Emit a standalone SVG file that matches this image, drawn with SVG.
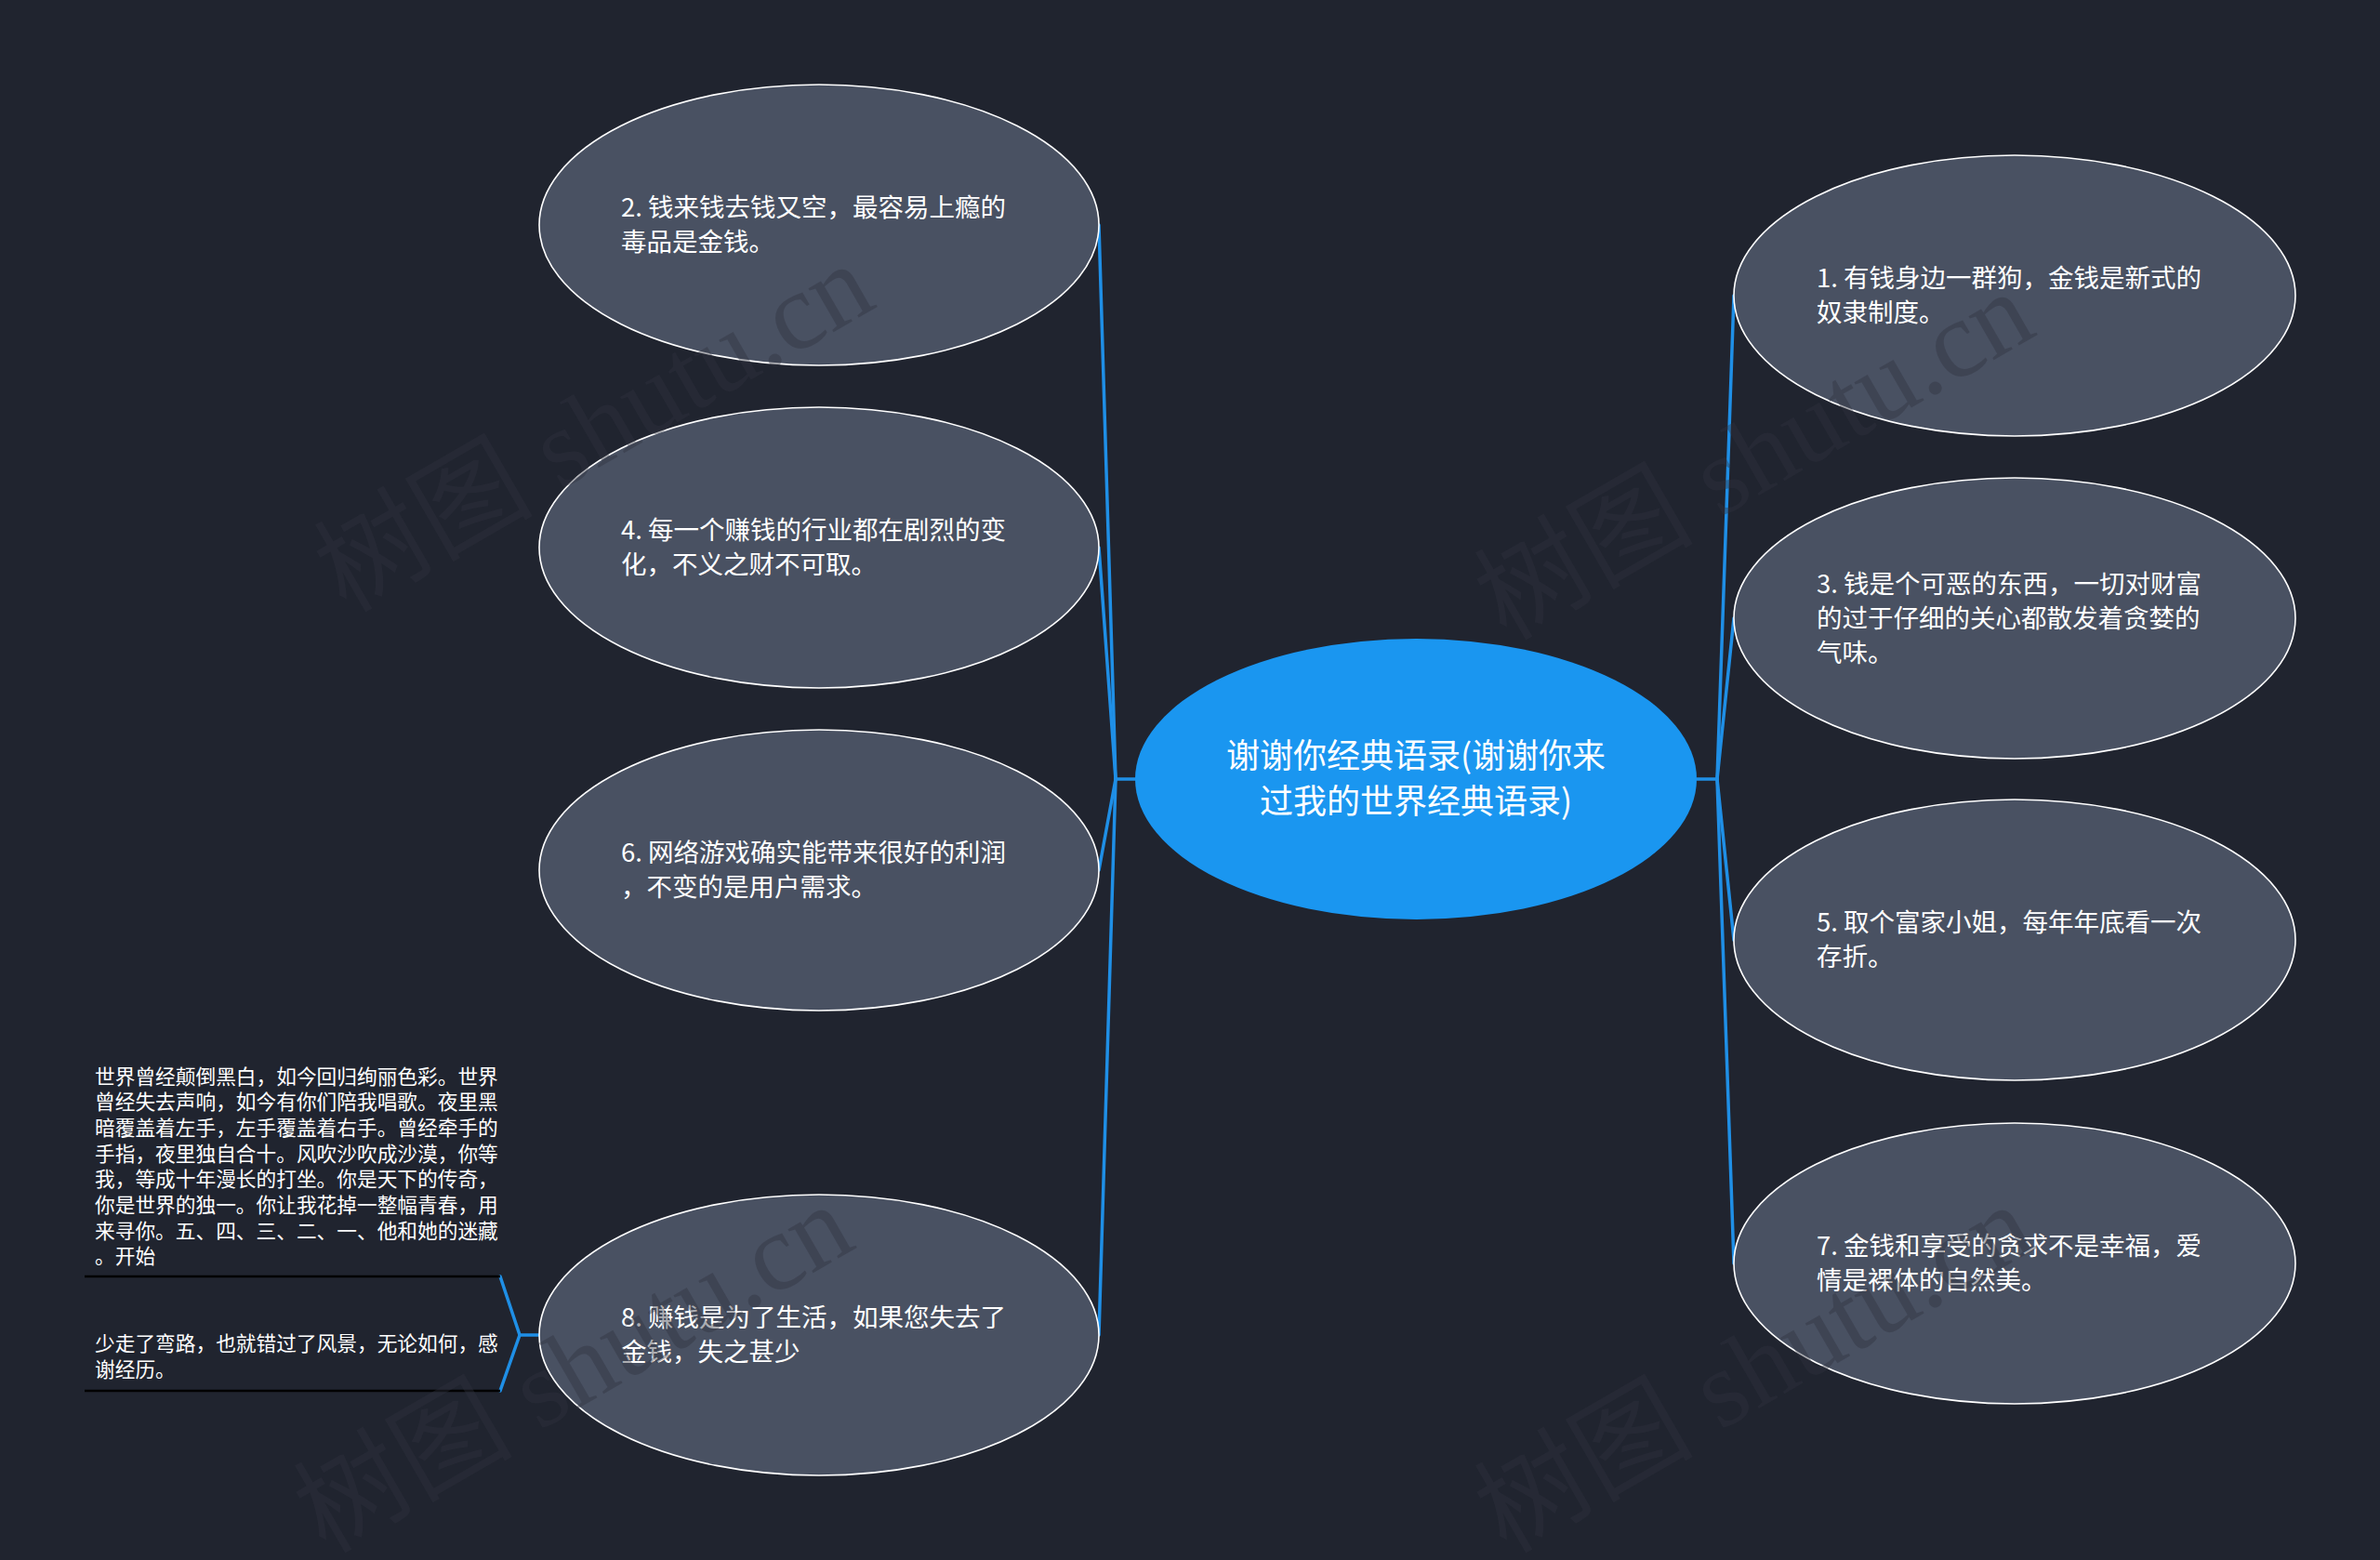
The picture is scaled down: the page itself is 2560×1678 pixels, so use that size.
<svg xmlns="http://www.w3.org/2000/svg" width="2560" height="1678" viewBox="0 0 2560 1678">
<defs>
<style>
.bg{fill:#20242f}
.node{fill:#495162;stroke:#ffffff;stroke-width:1.6}
.root{fill:#1a96f0}
.t{font-family:"Noto Sans CJK SC","Liberation Sans",sans-serif;font-size:27.5px;fill:#ffffff}
.rt{font-family:"Noto Sans CJK SC","Liberation Sans",sans-serif;font-size:36px;fill:#ffffff;text-anchor:middle}
.st{font-family:"Noto Sans CJK SC","Liberation Sans",sans-serif;font-size:21.7px;fill:#ffffff}
.con{fill:none;stroke:#1f8fe6;stroke-width:3.5;stroke-linejoin:round;stroke-linecap:round}
.ul{stroke:#000000;stroke-width:2.5}
.wm{font-family:"Liberation Serif","Noto Sans CJK SC",serif;font-size:118px;fill:#2f333e;fill-opacity:0.4}
</style>
</defs>
<rect class="bg" x="0" y="0" width="2560" height="1678"/>
<g id="connectors">
<path class="con" d="M1222,838 L1200,838"/>
<path class="con" d="M1200,838 L1182,242"/>
<path class="con" d="M1200,838 L1182,589"/>
<path class="con" d="M1200,838 L1182,936"/>
<path class="con" d="M1200,838 L1182,1436"/>
<path class="con" d="M1825,838 L1847,838"/>
<path class="con" d="M1847,838 L1865,318"/>
<path class="con" d="M1847,838 L1865,665"/>
<path class="con" d="M1847,838 L1865,1011"/>
<path class="con" d="M1847,838 L1865,1359"/>
<path class="con" d="M580,1436 L559,1436"/>
<path class="con" d="M538,1373 L559,1436 L538,1496"/>
</g>
<g id="root">
<ellipse class="root" cx="1523" cy="838" rx="302" ry="151"/>
<text class="rt" x="1523" y="825.5">谢谢你经典语录(谢谢你来</text>
<text class="rt" x="1523" y="874.5">过我的世界经典语录)</text>
</g>
<g id="node2">
<ellipse class="node" cx="881" cy="242" rx="301" ry="151"/>
<text class="t" x="668" y="233">2. 钱来钱去钱又空，最容易上瘾的</text>
<text class="t" x="668" y="270">毒品是金钱。</text>
</g>
<g id="node4">
<ellipse class="node" cx="881" cy="589" rx="301" ry="151"/>
<text class="t" x="668" y="580">4. 每一个赚钱的行业都在剧烈的变</text>
<text class="t" x="668" y="617">化，不义之财不可取。</text>
</g>
<g id="node6">
<ellipse class="node" cx="881" cy="936" rx="301" ry="151"/>
<text class="t" x="668" y="927">6. 网络游戏确实能带来很好的利润</text>
<text class="t" x="668" y="964">，不变的是用户需求。</text>
</g>
<g id="node8">
<ellipse class="node" cx="881" cy="1436" rx="301" ry="151"/>
<text class="t" x="668" y="1427">8. 赚钱是为了生活，如果您失去了</text>
<text class="t" x="668" y="1464">金钱，失之甚少</text>
</g>
<g id="node1">
<ellipse class="node" cx="2167" cy="318" rx="302" ry="151"/>
<text class="t" x="1954" y="309">1. 有钱身边一群狗，金钱是新式的</text>
<text class="t" x="1954" y="346">奴隶制度。</text>
</g>
<g id="node3">
<ellipse class="node" cx="2167" cy="665" rx="302" ry="151"/>
<text class="t" x="1954" y="637.5">3. 钱是个可恶的东西，一切对财富</text>
<text class="t" x="1954" y="674.5">的过于仔细的关心都散发着贪婪的</text>
<text class="t" x="1954" y="711.5">气味。</text>
</g>
<g id="node5">
<ellipse class="node" cx="2167" cy="1011" rx="302" ry="151"/>
<text class="t" x="1954" y="1002">5. 取个富家小姐，每年年底看一次</text>
<text class="t" x="1954" y="1039">存折。</text>
</g>
<g id="node7">
<ellipse class="node" cx="2167" cy="1359" rx="302" ry="151"/>
<text class="t" x="1954" y="1350">7. 金钱和享受的贪求不是幸福，爱</text>
<text class="t" x="1954" y="1387">情是裸体的自然美。</text>
</g>
<g id="sub8a">
<text class="st" x="102" y="1165.5">世界曾经颠倒黑白，如今回归绚丽色彩。世界</text>
<text class="st" x="102" y="1193.2">曾经失去声响，如今有你们陪我唱歌。夜里黑</text>
<text class="st" x="102" y="1220.9">暗覆盖着左手，左手覆盖着右手。曾经牵手的</text>
<text class="st" x="102" y="1248.6">手指，夜里独自合十。风吹沙吹成沙漠，你等</text>
<text class="st" x="102" y="1276.3">我，等成十年漫长的打坐。你是天下的传奇，</text>
<text class="st" x="102" y="1304">你是世界的独一。你让我花掉一整幅青春，用</text>
<text class="st" x="102" y="1331.7">来寻你。五、四、三、二、一、他和她的迷藏</text>
<text class="st" x="102" y="1359.4">。开始</text>
<line class="ul" x1="91" y1="1373" x2="538" y2="1373"/>
</g>
<g id="sub8b">
<text class="st" x="102" y="1452.5">少走了弯路，也就错过了风景，无论如何，感</text>
<text class="st" x="102" y="1480.5">谢经历。</text>
<line class="ul" x1="91" y1="1496" x2="538" y2="1496"/>
</g>
<g id="watermarks">
<text class="wm" transform="translate(372,660) rotate(-30)">树图 shutu.cn</text>
<text class="wm" transform="translate(1620,690) rotate(-30)">树图 shutu.cn</text>
<text class="wm" transform="translate(350,1672) rotate(-30)">树图 shutu.cn</text>
<text class="wm" transform="translate(1620,1672) rotate(-30)">树图 shutu.cn</text>
</g>
</svg>
